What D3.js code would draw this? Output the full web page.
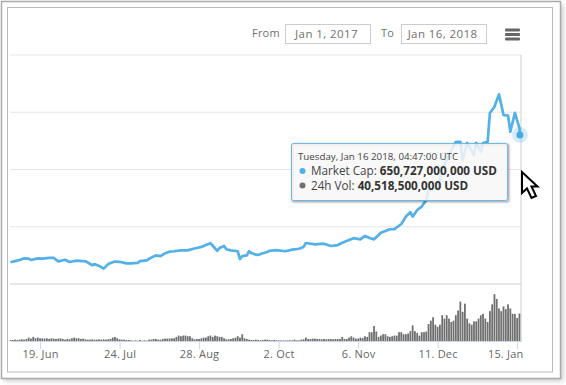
<!DOCTYPE html>
<html>
<head>
<meta charset="utf-8">
<script src="https://cdn.jsdelivr.net/npm/d3@7"></script>
<style>
	html, body {margin: 0; padding: 0; background: #fff;}
	svg {display: block;}
	text {font-family: "Open Sans", sans-serif;}
</style>
</head>
<body>
<svg id="chart" width="566" height="385"></svg>
<script>
var startDate = "2017-06-06";

// market cap, billions of USD, read at the bends of the line (days after startDate)
var capDays = [0, 2, 4, 6, 8, 9, 12, 14, 17, 19, 21, 24, 26, 29, 33, 34, 36, 37, 39, 41, 43, 45, 46, 48, 51, 53, 56, 57, 60, 61,
	64, 66, 68, 70, 72, 75, 78, 80, 82, 84, 86, 88, 89, 91, 92, 94, 95, 97, 100, 101, 102, 104, 105, 106, 108, 109, 111, 113, 114, 117,
	121, 124, 127, 129, 130, 134, 138, 141, 144, 146, 149, 151, 154, 156, 158, 160, 162, 163, 165, 167, 169, 172, 174, 176, 177, 179, 181, 183, 184, 188,
	190, 193, 196, 198, 199, 201, 204, 205, 207, 208, 210, 211, 213, 215, 217, 219, 220, 222, 224, 224.2];
var capValues = [95, 100, 105, 112, 111, 105, 112, 111, 114, 114, 99, 106, 96, 102, 99, 94, 82, 87, 79, 67, 87, 95, 98, 97, 90, 90, 92, 100, 103, 110,
	125, 122, 134, 141, 143, 147, 147, 153, 157, 162, 170, 178, 167, 145, 157, 166, 152, 147, 143, 109, 122, 125, 143, 135, 128, 127, 134, 140, 145, 148,
	143, 150, 154, 162, 179, 173, 176, 166, 170, 180, 192, 200, 195, 210, 201, 195, 214, 224, 231, 239, 240, 262, 294, 314, 294, 323, 338, 367, 410, 419,
	498, 563, 621, 621, 541, 616, 563, 616, 578, 616, 621, 747, 774, 828, 738, 735, 665, 747, 681, 651];

// 24h volume, billions of USD, one value per day from startDate
var volValues = [1.5, 1.5, 2, 1.5, 2, 2.5, 2, 3, 5, 3.5,
	6, 4, 5, 4, 4, 3.5, 4, 3, 4, 3.5,
	3, 3.5, 4, 3, 2, 3, 2.5, 4, 5, 4,
	4, 3, 3.5, 2.5, 2, 2, 2.5, 2, 2, 2.5,
	2, 2.5, 2, 2.5, 3, 5, 6, 4, 2.5, 2,
	2, 1.5, 1.5, 1, 0.5, 1, 0.5, 1.5, 0.5, 1,
	0.5, 2, 2, 3, 3, 2, 2, 3, 3.5, 3.5,
	3.5, 4, 4, 6, 8, 7, 8, 8, 7, 7,
	4, 2.5, 3, 3, 4, 5, 5, 7, 8, 6,
	8, 7, 6, 6, 4, 2.5, 2.5, 3, 4, 5,
	7, 5, 10, 4, 3, 2, 1.5, 1.5, 2, 1.5,
	1, 1.5, 2, 2, 1.5, 1, 1.5, 1, 1, 0.8,
	0.8, 0.8, 1, 1, 1, 2, 1, 1, 2, 2.5,
	5, 3, 3, 3.5, 3.5, 3, 3, 2.5, 3, 2.5,
	3, 3, 2.5, 3, 3, 3, 6, 3, 3, 5,
	7, 5, 3.5, 3.5, 5, 4.5, 7, 6, 13, 13,
	22, 14, 6, 8, 10, 10, 7, 6, 7, 8,
	8, 13, 13, 10, 10, 11, 14.5, 23, 14.5, 12,
	8, 13, 13, 14, 25, 30, 35, 24, 21, 24,
	38, 33, 38, 33, 28, 30, 38, 45, 58, 43,
	55, 33, 26, 24, 29, 29, 33, 38, 40, 33,
	28, 44, 54, 69, 62, 48, 44, 51, 47, 54,
	48, 40, 40, 34, 40.5];

var tickDates = ["2017-06-19", "2017-07-24", "2017-08-28", "2017-10-02", "2017-11-06", "2017-12-11", "2018-01-15"];
var capGrid = [0, 250, 500, 750, 1000];
var tooltipLines = [
	{name: "Market Cap: ", value: "650,727,000,000 USD", color: "#4fb0e6"},
	{name: "24h Vol: ", value: "40,518,500,000 USD", color: "#707070"}
];

var svg = d3.select("#chart");
var lineColour = "#53b1e8", barColour = "#707070", axisColour = "#ccd6eb", gridColour = "#e6e6e6";

var parseDay = d3.utcParse("%Y-%m-%d");
var start = parseDay(startDate);
var dayToDate = function(d) {return new Date(start.getTime() + d * 86400000);};

var x = d3.scaleUtc()
	.domain([start, dayToDate(225)])
	.range([10.5, 521.7]);
var yCap = d3.scaleLinear().domain([0, 1000]).range([284, 55]);
var yVol = d3.scaleLinear().domain([0, 84]).range([341, 284]);

//outer frame with its soft shadow, then the thin inner border
var defs = svg.append("defs");
defs.append("filter")
	.attr("id", "blur")
	.attr("x", "-5%").attr("y", "-5%").attr("width", "110%").attr("height", "110%")
	.append("feGaussianBlur").attr("stdDeviation", 2.5);
svg.append("rect")
	.attr("x", 4).attr("y", 4).attr("width", 559).attr("height", 377)
	.attr("fill", "#999").attr("opacity", 0.55)
	.attr("filter", "url(#blur)");
svg.append("rect")
	.attr("x", 1.5).attr("y", 1.5).attr("width", 559).attr("height", 377)
	.attr("fill", "#fff").attr("stroke", "#aaa").attr("stroke-width", 1.5);
svg.append("rect")
	.attr("x", 7.5).attr("y", 7.5).attr("width", 545).attr("height", 364.5)
	.attr("fill", "#fff").attr("stroke", "#bbb");

//range selector
var rangeText = function(px, label) {
	svg.append("text")
		.attr("x", px).attr("y", 37)
		.attr("font-size", 11)
		.attr("fill", "#707070")
		.attr("letter-spacing", 0.2)
		.text(label);
};
var rangeBox = function(px, label) {
	svg.append("rect")
		.attr("x", px).attr("y", 24.5).attr("width", 85).attr("height", 19)
		.attr("fill", "#fff").attr("stroke", "#ccc");
	svg.append("text")
		.attr("x", px + 41).attr("y", 38)
		.attr("text-anchor", "middle")
		.attr("font-size", 11.5).attr("fill", "#707070")
		.attr("letter-spacing", 0.4)
		.text(label);
};
rangeText(252, "From");
rangeBox(285.5, "Jan 1, 2017");
rangeText(381, "To");
rangeBox(401.5, "Jan 16, 2018");

//menu button
svg.append("g").selectAll("rect").data([28.5, 33, 37.5]).enter().append("rect")
	.attr("x", 505).attr("y", function(d) {return d;})
	.attr("width", 15).attr("height", 3)
	.attr("rx", 1)
	.attr("fill", "#666");

//gridlines
svg.append("g").selectAll("line").data(capGrid).enter().append("line")
	.attr("x1", 10).attr("x2", 521)
	.attr("y1", function(d) {return yCap(d);})
	.attr("y2", function(d) {return yCap(d);})
	.attr("stroke", gridColour)
	.attr("stroke-width", function(d) {return d == 0 ? 2 : 1;});

//crosshair
svg.append("line")
	.attr("x1", 521).attr("x2", 521)
	.attr("y1", 55).attr("y2", 341)
	.attr("stroke", "#d0d0d0");

//volume
svg.append("g").selectAll("rect").data(volValues).enter().append("rect")
	.attr("x", function(d, i) {return x(dayToDate(i)) - 0.9;})
	.attr("width", 1.8)
	.attr("y", function(d) {return yVol(d);})
	.attr("height", function(d) {return yVol(0) - yVol(d);})
	.attr("fill", barColour);

//x axis
var xAxis = d3.axisBottom(x)
	.tickValues(tickDates.map(parseDay))
	.tickFormat(d3.utcFormat("%-d. %b"))
	.tickSize(8)
	.tickSizeOuter(0);
var axisG = svg.append("g")
	.attr("transform", "translate(0, 341)")
	.call(xAxis);
axisG.select(".domain").attr("stroke", axisColour);
axisG.selectAll("line").attr("stroke", axisColour);
axisG.selectAll("text")
	.attr("y", 9.5)
	.attr("font-size", 11)
	.attr("letter-spacing", 0.2)
	.attr("fill", "#666");
axisG.attr("font-family", null);
//the last label is pushed back so that it stays inside the plot
axisG.selectAll("text").filter(function(d, i) {return i == tickDates.length - 1;})
	.attr("x", -12);

//market cap
var capData = capDays.map(function(d, i) {return {date: dayToDate(d), value: capValues[i]};});
var line = d3.line()
	.x(function(d) {return x(d.date);})
	.y(function(d) {return yCap(d.value);});
svg.append("path")
	.datum(capData)
	.attr("d", line)
	.attr("fill", "none")
	.attr("stroke", lineColour)
	.attr("stroke-width", 2.7)
	.attr("stroke-linejoin", "round");

//hovered point
var last = capData[capData.length - 1];
svg.append("circle")
	.attr("cx", x(last.date)).attr("cy", yCap(last.value)).attr("r", 8)
	.attr("fill", lineColour).attr("opacity", 0.25);
svg.append("circle")
	.attr("cx", x(last.date)).attr("cy", yCap(last.value)).attr("r", 3.5)
	.attr("fill", "#46a9e2");

//tooltip
var tooltip = svg.append("g").attr("transform", "translate(291.5, 143.5)");
[3, 2, 1].forEach(function(k) {
	tooltip.append("rect")
		.attr("x", 1).attr("y", 1)
		.attr("width", 216).attr("height", 57)
		.attr("rx", 2)
		.attr("fill", "none")
		.attr("stroke", "#000")
		.attr("stroke-opacity", 0.05 * k)
		.attr("stroke-width", 2 * (4 - k) - 1);
});
tooltip.append("rect")
	.attr("width", 216).attr("height", 57)
	.attr("rx", 2)
	.attr("fill", "#f7f7f7").attr("fill-opacity", 0.85)
	.attr("stroke", "#6db9e6");
tooltip.append("text")
	.attr("x", 6.5).attr("y", 16.5)
	.attr("font-size", 9.75)
	.attr("fill", "#444")
	.text("Tuesday, Jan 16 2018, 04:47:00 UTC");
var rows = tooltip.selectAll(".row").data(tooltipLines).enter().append("g")
	.attr("class", "row")
	.attr("transform", function(d, i) {return "translate(0, " + (27.5 + i * 14.5) + ")";});
rows.append("circle")
	.attr("cx", 11).attr("r", 3)
	.attr("fill", function(d) {return d.color;});
var rowText = rows.append("text")
	.attr("x", 19.5).attr("y", 4)
	.attr("font-size", 11.7)
	.attr("fill", "#444");
rowText.append("tspan").text(function(d) {return d.name;});
rowText.append("tspan")
	.attr("font-weight", "bold")
	.attr("fill", "#333")
	.text(function(d) {return d.value;});

//mouse cursor in the screenshot
svg.append("path")
	.attr("transform", "translate(522, 172)")
	.attr("d", "M0,0 L0,21 L5,16.5 L9.5,26 L14,24 L9.5,14.5 L15.5,14.5 Z")
	.attr("fill", "#fff")
	.attr("stroke", "#000")
	.attr("stroke-width", 2)
	.attr("stroke-linejoin", "miter");
</script>
</body>
</html>
